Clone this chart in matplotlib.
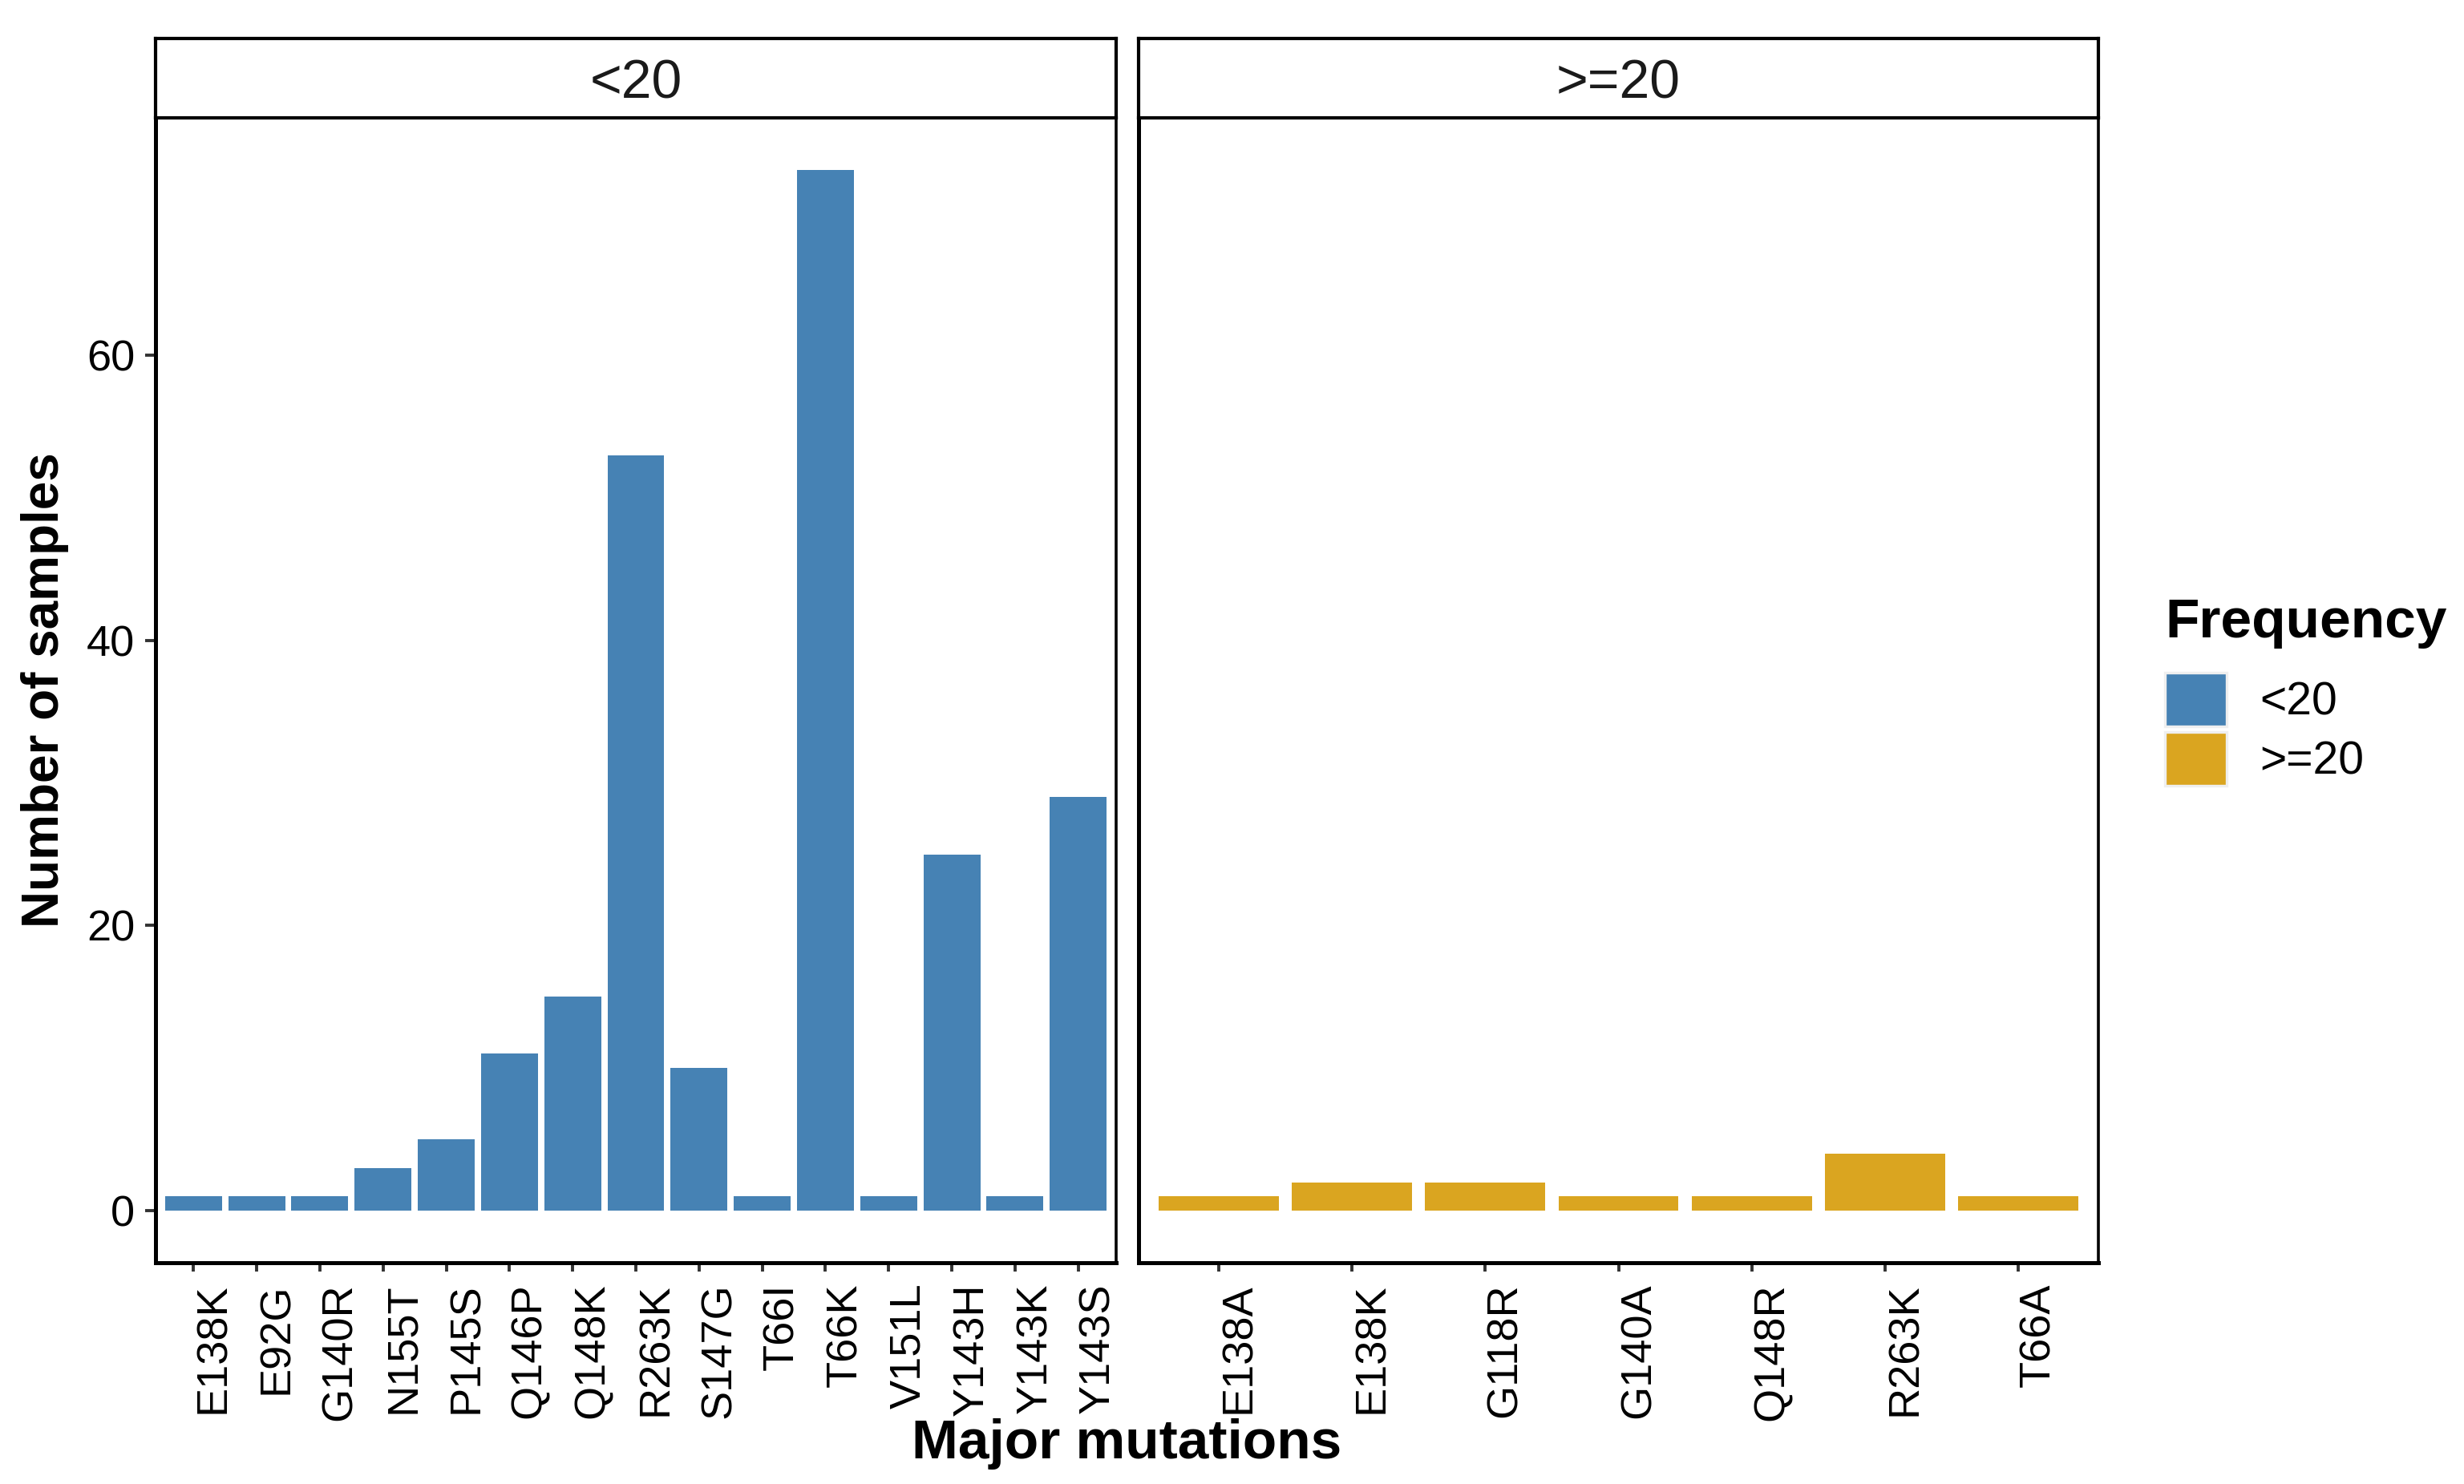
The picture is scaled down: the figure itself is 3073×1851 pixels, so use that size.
import matplotlib
matplotlib.use("Agg")
import matplotlib.pyplot as plt
from matplotlib.patches import Patch

# data
low_muts = ["E138K", "E92G", "G140R", "N155T", "P145S", "Q146P", "Q148K", "R263K",
            "S147G", "T66I", "T66K", "V151L", "Y143H", "Y143K", "Y143S"]
low_counts = [1, 1, 1, 3, 5, 11, 15, 53, 10, 1, 73, 1, 25, 1, 29]

high_muts = ["E138A", "E138K", "G118R", "G140A", "Q148R", "R263K", "T66A"]
high_counts = [1, 2, 2, 1, 1, 4, 1]

groups = ["<20", ">=20"]
colors = {"<20": "#4682B4", ">=20": "#DAA520"}
yticks = [0, 20, 40, 60]

plt.rcParams['font.family'] = ['Liberation Sans', 'DejaVu Sans']

W, H = 3073, 1851
fig = plt.figure(figsize=(W / 200, H / 200), dpi=200)


def frac_box(x0, y0, x1, y1):
    # pixel box (top-left origin) -> figure fraction rect
    return [x0 / W, 1 - y1 / H, (x1 - x0) / W, (y1 - y0) / H]


panels = [
    (groups[0], low_muts, low_counts, (194, 147, 1392, 1575)),
    (groups[1], high_muts, high_counts, (1420, 147, 2617, 1575)),
]

ymax = max(low_counts + high_counts)
pad = ymax * 0.05

for i, (grp, muts, counts, box) in enumerate(panels):
    ax = fig.add_axes(frac_box(*box))
    xs = list(range(1, len(muts) + 1))
    ax.bar(xs, counts, width=0.9, color=colors[grp], linewidth=0)
    ax.set_xlim(0.4, len(muts) + 0.6)
    ax.set_ylim(-pad, ymax + pad)
    ax.set_xticks(xs)
    ax.set_xticklabels(muts, rotation=90, ha="left", va="top", fontsize=19.5, color="black")
    ax.tick_params(axis="x", length=4, width=1.4, color="#333333", pad=5.2)
    if i == 0:
        ax.set_yticks(yticks)
        ax.tick_params(axis="y", length=4.7, width=1.4, color="#333333", pad=4.5,
                       labelsize=19.5, labelcolor="black")
    else:
        ax.set_yticks([])
    for s in ax.spines.values():
        s.set_color("black")
        s.set_linewidth(1.3)
    ax.spines["bottom"].set_linewidth(1.8)
    ax.spines["left"].set_linewidth(1.8)

    # facet strip
    sx = fig.add_axes(frac_box(box[0], 48, box[2], 147))
    sx.set_xticks([])
    sx.set_yticks([])
    for s in sx.spines.values():
        s.set_color("black")
        s.set_linewidth(1.5)
    sx.text(0.5, 0.25, grp, ha="center", va="baseline", fontsize=24.5, color="#1A1A1A",
            transform=sx.transAxes)

fig.text(56 / W, 1 - 861 / H, "Number of samples", rotation=90, ha="center", va="center",
         fontsize=23, fontweight="bold")
fig.text(1405 / W, 1 - 1819 / H, "Major mutations", ha="center", va="baseline",
         fontsize=25, fontweight="bold")

# legend: title as its own text, keys below it
fig.text(2700 / W, 1 - 795 / H, "Frequency", ha="left", va="baseline",
         fontsize=25, fontweight="bold")
handles = [Patch(facecolor=colors[g], edgecolor="#EFEFEF", linewidth=1.2, label=g) for g in groups]
leg = fig.legend(handles=handles, loc="upper left",
                 bbox_to_anchor=(2700 / W, 1 - 839 / H), frameon=False,
                 fontsize=20.5, handlelength=1.35, handleheight=1.43, handletextpad=0.72,
                 labelspacing=0.12, borderpad=0, borderaxespad=0)

fig.savefig("out.png", dpi=200, facecolor="white")
